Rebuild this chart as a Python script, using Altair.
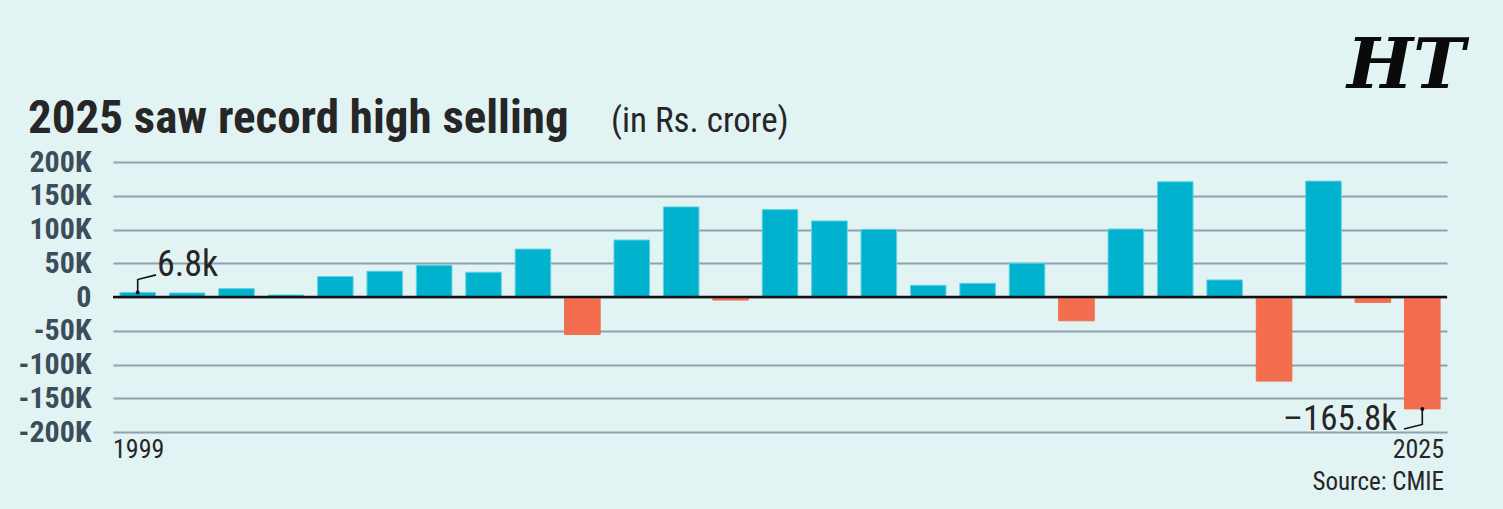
import altair as alt
import numpy as np
import pandas as pd

# Net FPI flows into Indian equities, Rs. crore
years = [1999, 2000, 2001, 2002, 2003, 2004, 2005, 2006, 2007, 2008, 2009, 2010, 2011,
         2012, 2013, 2014, 2015, 2016, 2017, 2018, 2019, 2020, 2021, 2022, 2023, 2024, 2025]
net_crore = [6800, 6000, 12400, 3000, 30300, 38200, 47100, 36700, 71000, -55600, 84400,
             133500, -4500, 129500, 112700, 100200, 17400, 20300, 50100, -35200, 100700,
             170700, 25300, -124600, 171700, -8000, -165800]
y_ticks = [200000, 150000, 100000, 50000, 0, -50000, -100000, -150000, -200000]
edge_years = ["1999", "2025"]

BG = "#E2F3F4"
BLUE = "#00B2CE"
ORANGE = "#F26E4E"
GRID = "#8DA2AD"
INK = "#262626"
AXIS_INK = "#3B4D58"
NARROW = "Roboto Condensed, Liberation Sans Narrow, DejaVu Sans Condensed, sans-serif"

W, H = 1334, 270

df = pd.DataFrame({"year": years, "value": net_crore})
df["x0"] = df["year"] - 0.36
df["x1"] = df["year"] + 0.36
df["side"] = np.where(df["value"] >= 0, "buy", "sell")

xs = alt.Scale(domain=[1998.5, 2025.5], nice=False, zero=False)
ys = alt.Scale(domain=[-200000, 200000], nice=False)

# One shared y axis definition so every layer merges into the same axis
Y_AXIS = alt.Axis(
    values=y_ticks,
    labelExpr="datum.value == 0 ? '0' : (datum.value / 1000) + 'K'",
    labelOverlap=False,
    grid=True,
    gridColor=GRID,
    gridWidth=2,
    domain=False,
    ticks=False,
    labelPadding=22,
    labelFont=NARROW,
    labelFontSize=30,
    labelFontWeight="bold",
    labelColor=AXIS_INK,
    title=None,
)


def X(field):
    return alt.X(field, scale=xs, axis=None)


def Y(field):
    return alt.Y(field, scale=ys, axis=Y_AXIS)


bars = alt.Chart(df).mark_bar(strokeWidth=1).encode(
    x=X("x0:Q"),
    x2="x1:Q",
    y=Y("value:Q"),
    y2=alt.datum(0),
    color=alt.Color("side:N", scale=alt.Scale(domain=["buy", "sell"], range=[BLUE, ORANGE]), legend=None),
    stroke=alt.Color("side:N", scale=alt.Scale(domain=["buy", "sell"], range=["#5FD3E3", ORANGE]), legend=None),
)

zero_line = alt.Chart(pd.DataFrame({"v": [0]})).mark_rule(color="#111111", strokeWidth=2.5).encode(
    y=Y("v:Q"),
    x=alt.datum(1998.5, scale=xs, axis=None),
    x2=alt.datum(2025.5),
)

# Callouts for the first and last year
first_year, first_val = years[0], net_crore[0]
last_year, last_val = years[-1], net_crore[-1]

lead_first = pd.DataFrame({
    "x": [first_year, first_year, first_year + 0.37],
    "y": [first_val, first_val + 19000, first_val + 26000],
    "o": [0, 1, 2],
})
lead_last = pd.DataFrame({
    "x": [last_year, last_year, last_year - 0.37],
    "y": [last_val, last_val - 23000, last_val - 29700],
    "o": [0, 1, 2],
})


def leader(frame):
    return alt.Chart(frame).mark_line(color="#111111", strokeWidth=1.6).encode(
        x=X("x:Q"), y=Y("y:Q"), order="o:Q"
    )


dots = alt.Chart(pd.DataFrame({"x": [first_year, last_year], "y": [first_val, last_val]})).mark_circle(
    color="#111111", size=16, opacity=1
).encode(x=X("x:Q"), y=Y("y:Q"))

first_lbl = alt.Chart(pd.DataFrame({
    "x": [first_year + 0.39], "y": [first_val + 25000], "t": [f"{first_val / 1000:.1f}k"]
})).mark_text(align="left", baseline="alphabetic", font=NARROW, fontSize=36, color=INK).encode(
    x=X("x:Q"), y=Y("y:Q"), text="t:N"
)

last_lbl = alt.Chart(pd.DataFrame({
    "x": [last_year - 0.51], "y": [last_val - 30800], "t": [f"\u2013{abs(last_val) / 1000:.1f}k"]
})).mark_text(align="right", baseline="alphabetic", font=NARROW, fontSize=35, color=INK).encode(
    x=X("x:Q"), y=Y("y:Q"), text="t:N"
)

# Edge year labels under the plot
yr_first = alt.Chart(pd.DataFrame({"x": [1998.5], "t": [edge_years[0]]})).mark_text(
    align="left", baseline="alphabetic", font=NARROW, fontSize=26, color=INK
).encode(x=X("x:Q"), y=alt.value(H + 26), text="t:N")

yr_last = alt.Chart(pd.DataFrame({"x": [2025.5], "t": [edge_years[1]]})).mark_text(
    align="right", baseline="alphabetic", font=NARROW, fontSize=26, color=INK, dx=-3
).encode(x=X("x:Q"), y=alt.value(H + 26), text="t:N")

source = alt.Chart(pd.DataFrame({"t": ["Source: CMIE"]})).mark_text(
    align="right", baseline="alphabetic", font=NARROW, fontSize=25, color=INK
).encode(x=alt.value(W - 3), y=alt.value(H + 58), text="t:N")

title = alt.Chart(pd.DataFrame({"t": ["2025 saw record high selling"]})).mark_text(
    align="left", baseline="alphabetic", font=NARROW, fontSize=47, fontWeight="bold", color=INK
).encode(x=alt.value(-85), y=alt.value(-29), text="t:N")

unit = alt.Chart(pd.DataFrame({"t": ["(in Rs. crore)"]})).mark_text(
    align="left", baseline="alphabetic", font=NARROW, fontSize=35, color=INK
).encode(x=alt.value(498), y=alt.value(-30), text="t:N")

logo = alt.Chart(pd.DataFrame({"t": ["HT"]})).mark_text(
    align="center", baseline="alphabetic", font="DejaVu Serif", fontSize=70, fontWeight="bold",
    fontStyle="italic", color="#0A0A0A"
).encode(x=alt.value(1293), y=alt.value(-74), text="t:N")

chart = alt.layer(
    bars, zero_line, leader(lead_first), leader(lead_last), dots,
    first_lbl, last_lbl, yr_first, yr_last, source, title, unit, logo,
).properties(
    width=W,
    height=H,
    autosize=alt.AutoSizeParams(type="none"),
    padding={"left": 113, "top": 162, "right": 56, "bottom": 77},
    background=BG,
).configure_view(stroke=None)

chart.save("out.html", embed_options={"renderer": "svg", "actions": False})
